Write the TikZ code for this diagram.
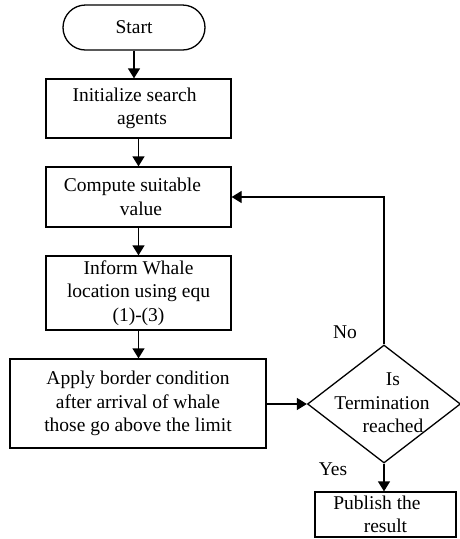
\documentclass[tikz,border=0pt]{standalone}
\usepackage{fontspec}
\setmainfont{Liberation Serif}
\usetikzlibrary{arrows.meta,shapes.geometric}
\begin{document}
\begin{tikzpicture}[x=1pt,y=-1pt,
  every node/.style={font=\fontsize{19.5}{23.5}\selectfont, inner sep=0pt},
  box/.style={draw, line width=1.3pt, align=center},
  term/.style={draw, line width=1.3pt, rounded corners=22.5pt,
    minimum width=142pt, minimum height=45pt},
  decision/.style={draw, line width=1.3pt, diamond, minimum width=153pt,
    minimum height=118pt},
  flow/.style={line width=1.3pt, -{Triangle[length=10pt,width=12pt]}},
  lbl/.style={}]
\useasboundingbox (0,0) rectangle (460,539);
% process chain
\node[term] (start) at (134,27.5) {Start};
\node[box, minimum width=185pt, minimum height=59pt] (init) at (138.5,108.5)
  {Initialize search\hspace*{8pt}\\\hspace*{7pt}agents};
\node[box, minimum width=185pt, minimum height=60pt] (comp) at (138.5,197)
  {Compute suitable\hspace*{12pt}\\\hspace*{5pt}value};
\node[box, minimum width=185pt, minimum height=74pt] (inform) at (138.5,293)
  {Inform Whale\\location using equ\\(1)-(3)};
\node[box, minimum width=256pt, minimum height=89pt] (apply) at (138,403.5)
  {Apply border condition\\after arrival of whale\\those go above the limit};
% decision and result
\node[decision] (dec) at (384,404) {};
\node[align=center] (dectext) at (382,403) {\hspace*{22pt}Is\\Termination\\\hspace*{22pt}reached};
\node[box, minimum width=141pt, minimum height=45pt] (pub) at (385.5,514.5)
  {Publish the\hspace*{17pt}\\result};
% connectors
\draw[flow] (start.south) -- (start.south |- init.north);
\draw[flow] (init.south) -- (comp.north);
\draw[flow] (comp.south) -- (inform.north);
\draw[flow] (inform.south) -- (inform.south |- apply.north);
\draw[flow] (apply.east |- dec.west) -- (dec.west);
\draw[flow] (dec.north) |- (comp.east);
\draw[flow] (dec.south) -- (dec.south |- pub.north);
% branch labels
\node[lbl] (no) at (345,332) {No};
\node[lbl] (yes) at (333,469) {Yes};
\end{tikzpicture}
\end{document}
